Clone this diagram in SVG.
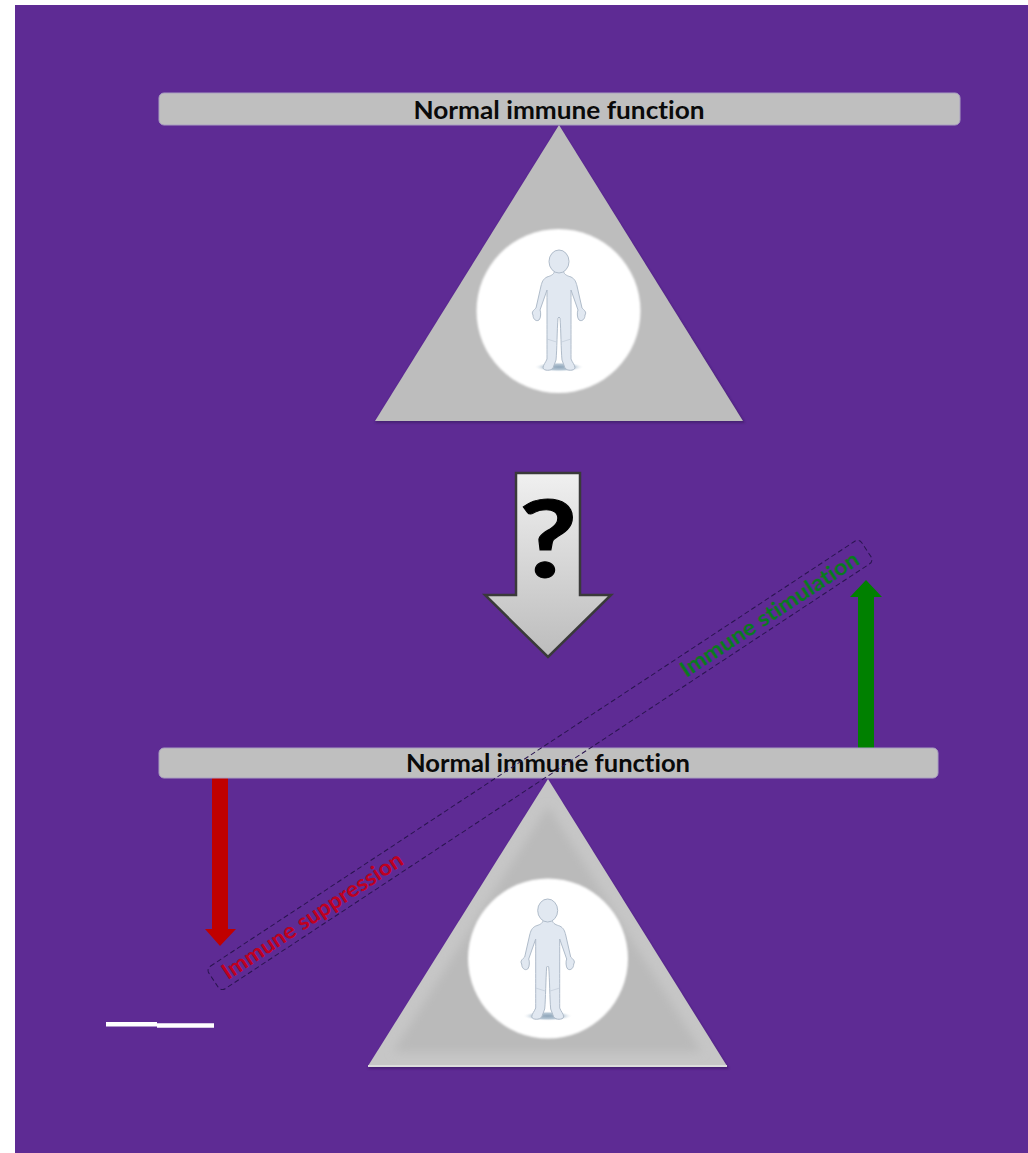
<svg xmlns="http://www.w3.org/2000/svg" width="1028" height="1153" viewBox="0 0 1028 1153">
<style>
.bar{fill:#bfbfbf;stroke:#a99fc0;stroke-width:1}
.title{font-family:Lato,"Open Sans","Liberation Sans",sans-serif;font-weight:700;font-size:25px;fill:#0a0a0a;text-anchor:middle;font-variant-ligatures:none}
.tri{fill:#bdbdbd}
.disc{fill:#fff}
.lbl{font-family:Lato,"Open Sans","Liberation Sans",sans-serif;font-weight:700;font-size:22px;font-variant-ligatures:none}
.skin{fill:#e1e8f1;stroke:#b0bcca;stroke-width:1}
.fine{fill:none;stroke:#c2ccd8;stroke-width:.7}
</style>
<defs>
<linearGradient id="g" x1="0" y1="0" x2="0" y2="1"><stop offset="0" stop-color="#f0f0f0"/><stop offset="1" stop-color="#bcbcbc"/></linearGradient>
<radialGradient id="sh"><stop offset="0" stop-color="#8fa6ba"/><stop offset=".6" stop-color="#b8c8d6"/><stop offset="1" stop-color="#fff" stop-opacity="0"/></radialGradient>
<filter id="soft" x="-10%" y="-10%" width="120%" height="120%"><feGaussianBlur stdDeviation="1"/></filter>
<filter id="soft2" x="-20%" y="-20%" width="140%" height="140%"><feGaussianBlur stdDeviation="5"/></filter>
<symbol id="person" overflow="visible">
<ellipse cx="0" cy="117" rx="25" ry="5" fill="url(#sh)"/>
<path class="skin" d="M-4.500 21C-5 25-9 26-12 27C-16 29-17 32-18 36L-23 58C-25 60-28 62-26 65C-26 69-23 72-20 70C-18 68-18 62-19 60L-12 40C-12 50-12 60-12 69C-12 76-12 84-12 89C-12 97-12 103-12 109C-13 112-16 115-16 118C-15 121-8 121-6 118L-3 110C-2 100-2 80-1 68L0 67L1 68C2 80 2 100 3 110L6 118C8 121 15 121 16 118C16 115 13 112 12 109C12 103 12 97 12 89C12 84 12 76 12 69C12 60 12 50 12 40L19 60C18 62 18 68 20 70C23 72 26 69 26 65C28 62 25 60 23 58L18 36C17 32 16 29 12 27C9 26 5 25 4.500 21Z"/>
<ellipse class="skin" cx="0" cy="11.500" rx="10" ry="11.500"/>
<path class="fine" d="M-12 89L-2.500 92M12 89L2.500 92"/>
</symbol>
</defs>
<rect width="1028" height="1153" fill="#fff"/>
<rect x="15" y="5" width="1013" height="1148" fill="#5e2b94"/>

<g id="top-scale">
<path d="M559 127L745 423L375 423Z" fill="#3d1f66" opacity=".7" filter="url(#soft)"/>
<path class="tri" d="M559 125L743 421L375 421Z"/>
<circle class="disc" cx="558.500" cy="311" r="82" filter="url(#soft)"/>
<use href="#person" x="559" y="250"/>
<rect class="bar" x="159" y="93" width="801" height="32" rx="5"/>
<text class="title" x="559" y="119" textLength="291" lengthAdjust="spacingAndGlyphs">Normal immune function</text>
</g>

<g id="question-arrow">
<path d="M516 473H580V595H611L548 657L485 595H516Z" fill="url(#g)" stroke="#3a3a3a" stroke-width="2.500"/>
<text transform="translate(548 577) scale(1.18 1)" x="0" y="0" font-family="Lato,'Liberation Sans',sans-serif" font-weight="700" font-size="108" text-anchor="middle" fill="#000" stroke="#000" stroke-width="1">?</text>
</g>

<g id="bottom-scale">
<path d="M548 781L729 1069L368 1069Z" fill="#3d1f66" opacity=".7" filter="url(#soft)"/>
<path d="M548 779L727 1066L368 1066Z" fill="#c6c6c6"/>
<path d="M548 806L702 1052L393 1052Z" fill="#bababa" filter="url(#soft2)"/>
<path d="M368 1066H727" stroke="#dcdcdc" stroke-width="2"/>
<circle class="disc" cx="548" cy="958.500" r="80" filter="url(#soft)"/>
<use href="#person" x="547.700" y="899"/>
</g>

<g id="connectors">
<path d="M212 778H228V929H236L220 946L205 929H212Z" fill="#c00000"/>
<path d="M858 748V597H850L866 580L882 597H874V748Z" fill="#008000"/>
<path d="M106 1024.300H157" stroke="#fff" stroke-width="4.500"/>
<path d="M157 1025.500H214" stroke="#fff" stroke-width="4.500"/>
</g>

<g id="bottom-bar">
<rect class="bar" x="159" y="748" width="779" height="30" rx="5"/>
<text class="title" x="548" y="772" textLength="284" lengthAdjust="spacingAndGlyphs">Normal immune function</text>
</g>

<g id="tilted-beam" transform="translate(540 765) rotate(-33.400)">
<rect x="-391" y="-13.500" width="782" height="27" rx="5" fill="none" stroke="#2a1550" stroke-width="1" stroke-dasharray="5 3"/>
<text class="lbl" x="-379" y="8" fill="#c00020" textLength="212" lengthAdjust="spacingAndGlyphs">Immune suppression</text>
<text class="lbl" x="170" y="8" fill="#0a7a20" textLength="209" lengthAdjust="spacingAndGlyphs">Immune stimulation</text>
</g>
</svg>
